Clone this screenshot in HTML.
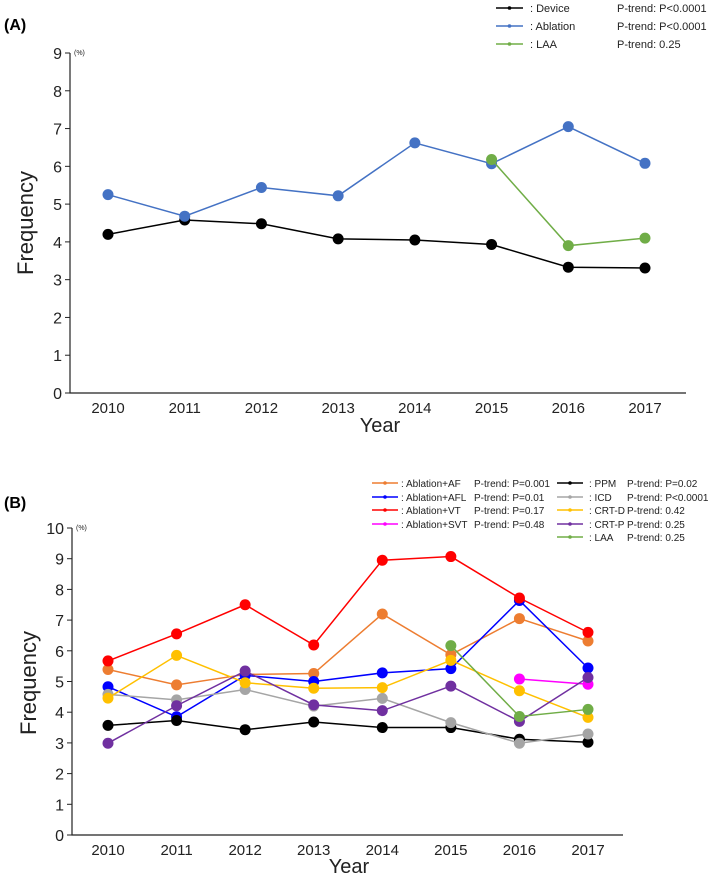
<!DOCTYPE html>
<html><head><meta charset="utf-8"><style>
body{margin:0;background:#fff;}
svg text{font-family:"Liberation Sans",sans-serif;}
</style></head><body>
<svg id="fig" width="709" height="876" viewBox="0 0 709 876" xmlns="http://www.w3.org/2000/svg">
<text x="4" y="30" font-size="16" font-weight="bold">(A)</text>
<text x="4" y="508" font-size="16" font-weight="bold">(B)</text>
<g id="A"></g>
<g id="B"></g>
</svg>
<script>
const years = [2010,2011,2012,2013,2014,2015,2016,2017];
// Panel A
const aDevice = [4.2,4.58,4.48,4.08,4.05,3.93,3.33,3.31];
const aAblation = [5.25,4.68,5.44,5.22,6.62,6.07,7.05,6.08];
const aLAA = [null,null,null,null,null,6.18,3.9,4.1];
const aTicks = [0,1,2,3,4,5,6,7,8,9];
// Panel B
const bAF = [5.39,4.89,5.23,5.26,7.2,5.87,7.05,6.32];
const bAFL = [4.83,3.85,5.2,5.0,5.28,5.42,7.64,5.44];
const bVT = [5.67,6.55,7.5,6.19,8.95,9.07,7.72,6.6];
const bSVT = [null,null,null,null,null,null,5.08,4.91];
const bPPM = [3.57,3.73,3.43,3.68,3.5,3.5,3.12,3.02];
const bICD = [4.58,4.4,4.74,4.2,4.45,3.66,2.99,3.29];
const bCRTD = [4.46,5.85,4.96,4.78,4.8,5.69,4.7,3.83];
const bCRTP = [2.99,4.21,5.34,4.24,4.05,4.85,3.7,5.13];
const bLAA = [null,null,null,null,null,6.17,3.86,4.09];
const bTicks = [0,1,2,3,4,5,6,7,8,9,10];

const NS="http://www.w3.org/2000/svg";
function mk(parent,tag,attrs,txt){const e=document.createElementNS(NS,tag);for(const k in attrs)e.setAttribute(k,attrs[k]);if(txt!==undefined)e.textContent=txt;parent.appendChild(e);return e;}

function panel(g,cfg){
  const xs=i=>cfg.x0+(cfg.x1-cfg.x0)*i/(years.length-1);
  const ys=v=>cfg.yb-(cfg.yb-cfg.yt)*v/cfg.ymax;
  const ax=mk(g,'path',{d:`M${cfg.ax},${ys(cfg.ymax)}V${cfg.yb}H${cfg.axEnd}`,stroke:'#222','stroke-width':1.2,fill:'none'});
  
  
  cfg.ticks.forEach(t=>{
    const l=mk(g,'line',{x1:cfg.ax-5,x2:cfg.ax,y1:ys(t),y2:ys(t),stroke:'#222','stroke-width':1});
    
    
    const tx=mk(g,'text',{x:cfg.ax-8,y:ys(t)+6,'font-size':16,'text-anchor':'end',fill:'#222'},t);
    
    
  });
  const pc=mk(g,'text',{x:cfg.ax+4,y:ys(cfg.ymax)+2,'font-size':7,fill:'#222'},'(%)');
  
  
  years.forEach((y,i)=>{
    const tx=mk(g,'text',{x:xs(i),y:cfg.yb+20,'font-size':15,'text-anchor':'middle',fill:'#222'},y);
    
    
  });
  const yt=mk(g,'text',{x:cfg.xtX,y:cfg.xtY,'font-size':20,'text-anchor':'middle',fill:'#222'},'Year');
  
  
  const ft=mk(g,'text',{x:0,y:0,'font-size':22,'text-anchor':'middle',fill:'#222',transform:`translate(${cfg.ftX},${cfg.ftY}) rotate(-90)`},'Frequency');
  
  
  cfg.series.forEach(s=>{
    const sg=mk(g,'g',{});
    
    
    let d='';
    s.data.forEach((v,i)=>{if(v===null)return;d+=(d?'L':'M')+xs(i)+','+ys(v);});
    mk(sg,'path',{d:d,stroke:s.color,'stroke-width':1.5,fill:'none'});
    s.data.forEach((v,i)=>{if(v===null)return;
      const c=mk(sg,'circle',{cx:xs(i),cy:ys(v),r:cfg.r,fill:s.color});
      
      
    });
  });
  cfg.legend.forEach(L=>{
    const lg=mk(g,'g',{});
    
    
    mk(lg,'line',{x1:L.x,x2:L.x+L.w,y1:L.y,y2:L.y,stroke:L.color,'stroke-width':1.5});
    mk(lg,'circle',{cx:L.x+L.w/2,cy:L.y,r:1.8,fill:L.color});
    mk(lg,'text',{x:L.lx,y:L.y+4,'font-size':L.fs,fill:'#222'},L.label);
    mk(lg,'text',{x:L.px,y:L.y+4,'font-size':L.fs,fill:'#222'},L.p);
  });
}

panel(document.getElementById('A'),{x0:108,x1:645,ax:70,axEnd:686,yb:393,yt:53,ymax:9,ticks:aTicks,r:5.5,
  xtX:380,xtY:432,ftX:33,ftY:223,
  series:[{name:'device',color:'#000',data:aDevice},{name:'ablation',color:'#4472c4',data:aAblation},{name:'laa',color:'#70ad47',data:aLAA}],
  legend:[
    {name:'device',color:'#000',x:496,w:27,y:8,lx:530,px:617,fs:11,label:': Device',p:'P-trend: P<0.0001'},
    {name:'ablation',color:'#4472c4',x:496,w:27,y:26,lx:530,px:617,fs:11,label:': Ablation',p:'P-trend: P<0.0001'},
    {name:'laa',color:'#70ad47',x:496,w:27,y:44,lx:530,px:617,fs:11,label:': LAA',p:'P-trend: 0.25'}]});

panel(document.getElementById('B'),{x0:108,x1:588,ax:72,axEnd:623,yb:835,yt:528,ymax:10,ticks:bTicks,r:5.5,
  xtX:349,xtY:873,ftX:36,ftY:683,
  series:[{name:'ablation-af',color:'#ed7d31',data:bAF},{name:'ablation-afl',color:'#0000ff',data:bAFL},{name:'ablation-vt',color:'#ff0000',data:bVT},{name:'ablation-svt',color:'#ff00ff',data:bSVT},
    {name:'ppm',color:'#000',data:bPPM},{name:'icd',color:'#a5a5a5',data:bICD},{name:'crt-d',color:'#ffc000',data:bCRTD},{name:'crt-p',color:'#7030a0',data:bCRTP},{name:'laa',color:'#70ad47',data:bLAA}],
  legend:[
    {name:'ablation-af',color:'#ed7d31',x:372,w:26,y:483,lx:401,px:474,fs:10,label:': Ablation+AF',p:'P-trend: P=0.001'},
    {name:'ablation-afl',color:'#0000ff',x:372,w:26,y:497,lx:401,px:474,fs:10,label:': Ablation+AFL',p:'P-trend: P=0.01'},
    {name:'ablation-vt',color:'#ff0000',x:372,w:26,y:510,lx:401,px:474,fs:10,label:': Ablation+VT',p:'P-trend: P=0.17'},
    {name:'ablation-svt',color:'#ff00ff',x:372,w:26,y:524,lx:401,px:474,fs:10,label:': Ablation+SVT',p:'P-trend: P=0.48'},
    {name:'ppm',color:'#000',x:557,w:26,y:483,lx:589,px:627,fs:10,label:': PPM',p:'P-trend: P=0.02'},
    {name:'icd',color:'#a5a5a5',x:557,w:26,y:497,lx:589,px:627,fs:10,label:': ICD',p:'P-trend: P<0.0001'},
    {name:'crt-d',color:'#ffc000',x:557,w:26,y:510,lx:589,px:627,fs:10,label:': CRT-D',p:'P-trend: 0.42'},
    {name:'crt-p',color:'#7030a0',x:557,w:26,y:524,lx:589,px:627,fs:10,label:': CRT-P',p:'P-trend: 0.25'},
    {name:'laa',color:'#70ad47',x:557,w:26,y:537,lx:589,px:627,fs:10,label:': LAA',p:'P-trend: 0.25'}]});
</script>
</body></html>
